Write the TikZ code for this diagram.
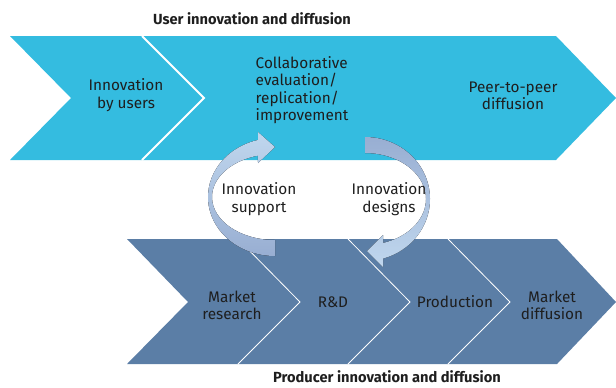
\documentclass[tikz,border=0pt]{standalone}
\usepackage{fontspec}
\setmainfont{Fira Sans}
\usetikzlibrary{calc}

\definecolor{usercyan}{RGB}{52,188,224}
\definecolor{prodblue}{RGB}{91,126,166}
\definecolor{arrlight}{RGB}{192,215,238}
\definecolor{arrdark}{RGB}{152,174,210}
\definecolor{txt}{RGB}{30,30,30}

\begin{document}
\begin{tikzpicture}[x=0.75pt,y=-0.75pt,font=\fontsize{11.5}{13}\selectfont,text=txt]
\useasboundingbox (0,0) rectangle (616,387);

\begin{scope}
% user band
\coordinate (ua) at (10,36);
\coordinate (ub) at (556,36);
\coordinate (uc) at (616,98);
\coordinate (ud) at (556,160);
\coordinate (ue) at (10,160);
\coordinate (uf) at (71,98);
\fill[usercyan] (ua) -- (ub) -- (uc) -- (ud) -- (ue) -- (uf) -- cycle;
\draw[white, line width=1.5pt] (142,36) -- (204,98) -- (142,160);

% producer band
\coordinate (pa) at (127,239);
\coordinate (pb) at (557,239);
\coordinate (pc) at (616,302);
\coordinate (pd) at (557,364);
\coordinate (pe) at (127,364);
\coordinate (pf) at (188,302);
\fill[prodblue] (pa) -- (pb) -- (pc) -- (pd) -- (pe) -- (pf) -- cycle;
\foreach \x in {238,348,448}
  \draw[white, line width=0.6pt] (\x,239) -- (\x+62,302) -- (\x,364);
\end{scope}

\begin{scope}
% circular arrows
\coordinate (cl) at (275,197);
\coordinate (cr) at (365,199);

\fill[top color=arrlight, bottom color=arrdark]
  ($(cl)+(255.3:67 and 59)$) arc[start angle=255.3, end angle=90, x radius=67, y radius=59]
  -- ($(cl)+(90:63 and 43)$) arc[start angle=90, end angle=254.3, x radius=63, y radius=43]
  -- (258,163) -- (275,147) -- (258,132) -- cycle;

\fill[top color=arrdark, bottom color=arrlight]
  ($(cr)+(270:65 and 62)$) arc[start angle=270, end angle=433.9, x radius=65, y radius=62]
  -- (383,267) -- (367,251) -- (383,235)
  -- ($(cr)+(72.8:61 and 46)$) arc[start angle=72.8, end angle=-90, x radius=61, y radius=46]
  -- cycle;
\end{scope}

% labels
\node[font=\fontsize{11}{12}\selectfont\bfseries] (usertitle) at (252,19) {User innovation and diffusion};
\node[font=\fontsize{11}{12}\selectfont\bfseries] (prodtitle) at (387,377) {Producer innovation and diffusion};

\node[align=center] (byusers) at (126,95) {Innovation\\by users};
\node[align=left, anchor=west] (collab) at (251,90) {Collaborative\\evaluation/\\replication/\\improvement};
\node[align=center] (peer) at (513,96) {Peer-to-peer\\diffusion};

\node[align=center] (support) at (259,199) {Innovation\\support};
\node[align=center] (designs) at (389,199) {Innovation\\designs};

\node[align=center] (research) at (232,305) {Market\\research};
\node (rnd) at (333,302) {R\&D};
\node (prodn) at (455,302) {Production};
\node[align=center] (mdiff) at (552,305) {Market\\diffusion};

\end{tikzpicture}
\end{document}
